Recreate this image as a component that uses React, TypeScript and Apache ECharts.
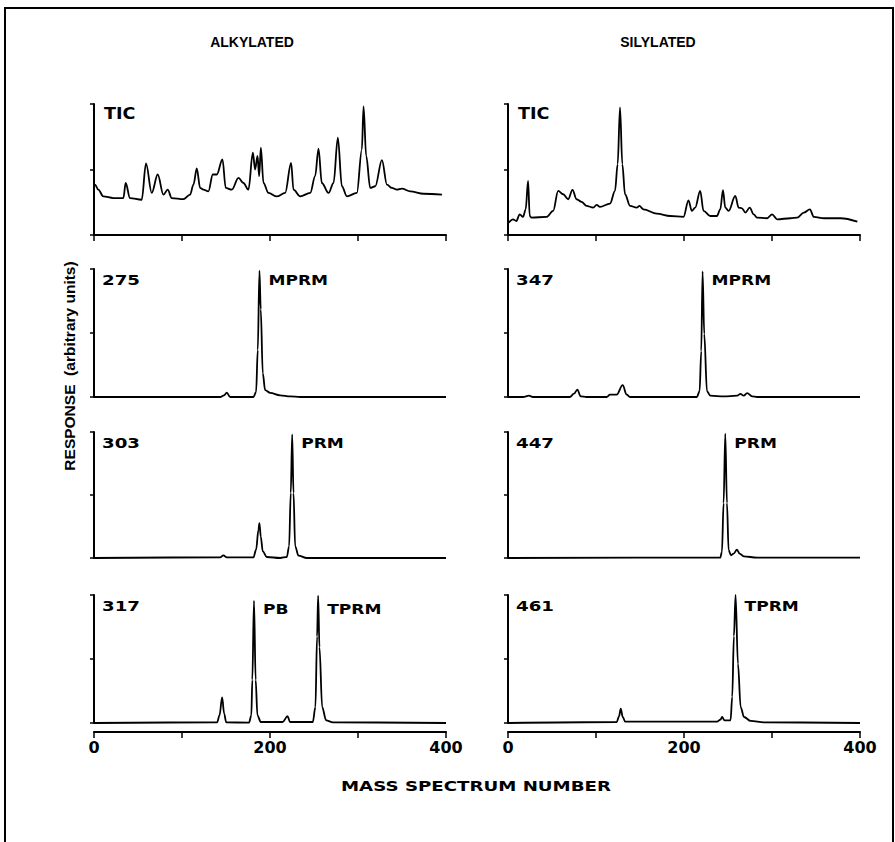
import React, { useEffect, useRef } from "react";
import * as echarts from "echarts";

// ---- Data (mass spectrum number, relative response 0-100) ----
const alkylatedTIC: number[][] = [
  [0, 38.5], [1.1, 38.5], [4.9, 34.6], [10.6, 29.5], [22, 28.2], [33.4, 28.2], [36, 39.7], [40.9, 28.2],
  [54.2, 26.9], [59.1, 54.6], [65.6, 32.1], [72.4, 46.2], [78.9, 30.8], [83.8, 34.6], [88.3, 28.2],
  [101.6, 27.4], [109.2, 30.8], [113, 38.5], [116.8, 50.8], [120.6, 35.9], [124.3, 34.6], [130, 33.3],
  [135, 46.2], [139.5, 46.2], [146, 57.7], [149.7, 35.9], [156.6, 34.6], [164.2, 43.6], [169.8, 39.7],
  [175.5, 34.6], [180.5, 62.8], [183.1, 50], [185.8, 60.3], [187.7, 44.9], [189.6, 66.7], [192.6, 39.7],
  [198.3, 32.1], [207.7, 29.5], [217.2, 32.1], [224, 55.1], [226.7, 34.6], [234.3, 29.5], [245.7, 32.1],
  [251.3, 44.9], [255.1, 65.9], [258.9, 39.7], [266.5, 32.1], [272.2, 39.7], [277.1, 74.4], [281.7, 37.2],
  [287.4, 29.5], [298.7, 32.1], [304.4, 65.4], [306.3, 98.2], [309.3, 60.3], [313.9, 35.9], [319.6, 37.2],
  [327.2, 57.2], [332.9, 38.5], [338.5, 35.9], [344.2, 34.6], [349.9, 35.4], [359.4, 33.3], [374.6, 31.5],
  [395.4, 30.8],
];
const silylatedTIC: number[][] = [
  [0.8, 9.4], [5.7, 12], [9.5, 10.7], [13.3, 15.8], [17.1, 13.8], [20.1, 19.6], [22.8, 41.3], [24.7, 14.5],
  [26.6, 13.3], [43.7, 13.8], [51.3, 18.4], [57, 33.7], [62.7, 31.1], [68.4, 27.3], [73.3, 34.4], [77.9, 27.3],
  [83.6, 25.3], [89.3, 22.2], [96.9, 20.9], [100.7, 23], [104.5, 21.4], [115.9, 24], [121.6, 33.7],
  [124.6, 54.1], [127.3, 97.4], [129.9, 54.1], [133, 31.1], [138.7, 22.2], [146.3, 20.9], [149.3, 22.2],
  [153.9, 19.6], [169.1, 16.3], [184.3, 14.5], [199.4, 13.8], [205.1, 26.5], [208.9, 18.4], [212.7, 20.9],
  [218.4, 33.7], [222.2, 18.4], [229.8, 14.5], [237.4, 14.5], [241.2, 19.6], [244.3, 34.2], [246.9, 20.9],
  [250.7, 18.4], [258.3, 29.8], [262.1, 20.9], [265.9, 20.4], [269.7, 17.1], [274.7, 20.9], [279.2, 15.8],
  [283, 13.3], [294.4, 12.8], [300.1, 15.8], [305.8, 12], [321, 12.8], [328.6, 13.3], [336.2, 17.1],
  [343, 19.6], [347.6, 13.8], [359, 12.8], [378, 12.8], [397, 10.2],
];
const alkylated275: number[][] = [
  [0, 0], [143.3, 0], [147.8, 1.3], [150.9, 3.4], [154.7, 0], [158.5, 0], [181.2, 0], [184.2, 3.9],
  [186.1, 36.8], [188, 98.7], [189.5, 68.4], [191.8, 18.4], [194.5, 5.3], [200.2, 3.2], [211.5, 1.3],
  [222.9, 0.5], [234.3, 0], [400, 0],
];
const silylated347: number[][] = [
  [0, 0], [17.1, 0], [23.9, 1], [28.4, 0], [70.2, 0], [75, 2.6], [78.8, 5.8], [82.6, 0.5], [89.3, 0],
  [112.1, 0], [115.9, 1.8], [123.5, 1.8], [130.3, 9.2], [134.9, 1.8], [138.7, 0], [214.6, 0], [217.7, 4.5],
  [219.6, 35.9], [221.1, 98.2], [223, 49.2], [226.1, 4.5], [229.9, 1], [245.1, 0.5], [260.3, 1],
  [264.1, 2.4], [267.9, 1], [271.7, 3.1], [277.4, 0.5], [283.1, 0], [400, 0],
];
const alkylated303: number[][] = [
  [0, 0], [143.3, 0.5], [147, 2.1], [150.9, 0.5], [181.2, 0.5], [184.2, 6.6], [186.9, 22.5], [188, 27.6],
  [189.5, 17], [191.8, 5.3], [196.3, 0.8], [211.5, 0], [219.1, 0.8], [221.7, 9.3], [223.6, 51.7],
  [225.2, 98.1], [226.7, 51.7], [228.6, 9.3], [232.4, 1.9], [241.9, 0], [400, 0],
];
const silylated447: number[][] = [
  [0, 0], [241.2, 0.3], [243.1, 4.8], [245, 43.7], [246.9, 98.7], [248.8, 43.7], [250.7, 6.2], [253.4, 2.1],
  [256.4, 3.5], [260.2, 6.7], [263.2, 3.5], [267.8, 1.3], [283, 0.3], [400, 0.3],
];
const alkylated317: number[][] = [
  [0, 0], [139.9, 0.5], [142.6, 6], [145.6, 20], [147.9, 7.4], [150.2, 0.5], [176.1, 0.3], [178.8, 6],
  [179.9, 33.7], [181.8, 95.5], [183.7, 33.7], [185.7, 6], [189.5, 0.8], [214.3, 0.8], [220, 5.3],
  [222.7, 0.8], [248.6, 0.8], [251.6, 12.4], [253.5, 67.6], [254.7, 99.5], [256.2, 59.2], [259.3, 12.4],
  [263.8, 2.1], [271.5, 0.5], [400, 0],
];
const silylated461: number[][] = [
  [0, 0], [123.6, 0.8], [126.2, 5.3], [128.1, 11.3], [130.4, 4.7], [133.1, 1.1], [237.6, 1.1], [241.4, 2.6],
  [243.3, 4.7], [246, 2.1], [252.9, 2.1], [254.8, 20.5], [256.7, 67.9], [258.6, 100], [261.3, 46.3],
  [264.4, 12.4], [268.2, 4.7], [275.8, 1.6], [291, 0.5], [400, 0],
];

const columnTitles = ["ALKYLATED", "SILYLATED"];
const panelLabels = ["TIC", "TIC", "275", "347", "303", "447", "317", "461"];
const panelData = [alkylatedTIC, silylatedTIC, alkylated275, silylated347, alkylated303, silylated447, alkylated317, silylated461];
// peak labels: [panel index, label, spectrum number of apex]
const peakLabels: [number, string, number][] = [
  [2, "MPRM", 188], [3, "MPRM", 221.1], [4, "PRM", 225.2], [5, "PRM", 246.9],
  [6, "PB", 181.8], [6, "TPRM", 254.7], [7, "TPRM", 258.6],
];
const xTicks = [0, 100, 200, 300, 400];
const xAxisTitle = "MASS SPECTRUM NUMBER";
const yAxisTitle = "RESPONSE  (arbitrary units)";

// ---- Layout ----
const colLeft = [94, 508];
const colWidth = 352;
const rowTop = [104, 269, 432, 595];
const rowHeight = [131, 128, 126, 128];
const peakTopOffset = [0, 0, 5, 5, 5, 5, 8, 5];

const FONT = "DejaVu Sans";

export default function App() {
  const ref = useRef<HTMLDivElement>(null);
  useEffect(() => {
    if (!ref.current) return;
    const chart = echarts.init(ref.current, undefined, { renderer: "svg" });
    const grids: any[] = [];
    const xAxes: any[] = [];
    const yAxes: any[] = [];
    const series: any[] = [];
    panelData.forEach((d, i) => {
      const col = i % 2;
      const row = Math.floor(i / 2);
      grids.push({ left: colLeft[col], top: rowTop[row], width: colWidth, height: rowHeight[row], containLabel: false });
      const isTop = row === 0;
      const isBottom = row === 3;
      xAxes.push({
        type: "value",
        gridIndex: i,
        min: xTicks[0],
        max: xTicks[xTicks.length - 1],
        interval: 100,
        show: isTop || isBottom,
        offset: isBottom ? 9 : 0,
        axisLine: { show: true, onZero: false, lineStyle: { color: "#000", width: 2 } },
        axisTick: { show: true, length: 6, lineStyle: { color: "#000", width: 1.5 } },
        axisLabel: {
          show: isBottom,
          margin: 7,
          color: "#000",
          fontFamily: FONT,
          fontWeight: "bold",
          fontSize: 16,
          formatter: (v: number) => (v % 200 === 0 ? String(v) : ""),
        },
        splitLine: { show: false },
      });
      yAxes.push({
        type: "value",
        gridIndex: i,
        min: 0,
        max: 100,
        interval: 50,
        axisLine: { show: true, onZero: false, lineStyle: { color: "#000", width: 2 } },
        axisTick: { show: true, length: 4, lineStyle: { color: "#000", width: 1.5 } },
        axisLabel: { show: false },
        splitLine: { show: false },
      });
      series.push({
        type: "line",
        xAxisIndex: i,
        yAxisIndex: i,
        data: d,
        showSymbol: false,
        symbol: "none",
        smooth: 0.35,
        smoothMonotone: "x",
        lineStyle: { color: "#000", width: 1.8 },
        silent: true,
      });
    });

    const baseGraphic: any[] = [
      { type: "rect", shape: { x: 5, y: 8, width: 888, height: 900 }, style: { fill: "none", stroke: "#000", lineWidth: 2 } },
      { type: "text", x: 252, y: 42, style: { text: columnTitles[0], fontFamily: "Liberation Sans", fontWeight: "bold", fontSize: 14, fill: "#000", align: "center", verticalAlign: "middle" } },
      { type: "text", x: 658, y: 42, style: { text: columnTitles[1], fontFamily: "Liberation Sans", fontWeight: "bold", fontSize: 14, fill: "#000", align: "center", verticalAlign: "middle" } },
      { type: "text", x: 476, y: 786, scaleX: 1.3, style: { text: xAxisTitle, fontFamily: FONT, fontWeight: "bold", fontSize: 14, fill: "#000", align: "center", verticalAlign: "middle" } },
      { type: "text", x: 69, y: 366, rotation: Math.PI / 2, style: { text: yAxisTitle, fontFamily: "Liberation Sans", fontWeight: "bold", fontSize: 15.5, fill: "#000", align: "center", verticalAlign: "middle" } },
    ];
    panelLabels.forEach((t, i) => {
      const col = i % 2;
      const row = Math.floor(i / 2);
      const isTIC = row === 0;
      baseGraphic.push({
        type: "text",
        x: colLeft[col] + (isTIC ? 10 : 8),
        y: rowTop[row] + (isTIC ? 1 : 4),
        scaleX: isTIC ? 1.1 : 1.3,
        style: { text: t, fontFamily: FONT, fontWeight: "bold", fontSize: isTIC ? 16 : 14, fill: "#000", align: "left", verticalAlign: "top" },
      });
    });

    chart.setOption({
      animation: false,
      backgroundColor: "#fff",
      grid: grids,
      xAxis: xAxes,
      yAxis: yAxes,
      series,
      graphic: baseGraphic,
    });

    const peakGraphic = peakLabels.map(([i, text, px]) => {
      const p = chart.convertToPixel({ xAxisIndex: i, yAxisIndex: i } as any, [px, 100]) as number[];
      return {
        type: "text",
        x: p[0] + 9,
        y: p[1] + peakTopOffset[i],
        scaleX: 1.22,
        style: { text, fontFamily: FONT, fontWeight: "bold", fontSize: 14, fill: "#000", align: "left", verticalAlign: "top" },
      };
    });
    chart.setOption({ graphic: baseGraphic.concat(peakGraphic) });

    return () => chart.dispose();
  }, []);
  return <div ref={ref} style={{ position: "absolute", left: 0, top: 0, width: 895, height: 842 }} />;
}
